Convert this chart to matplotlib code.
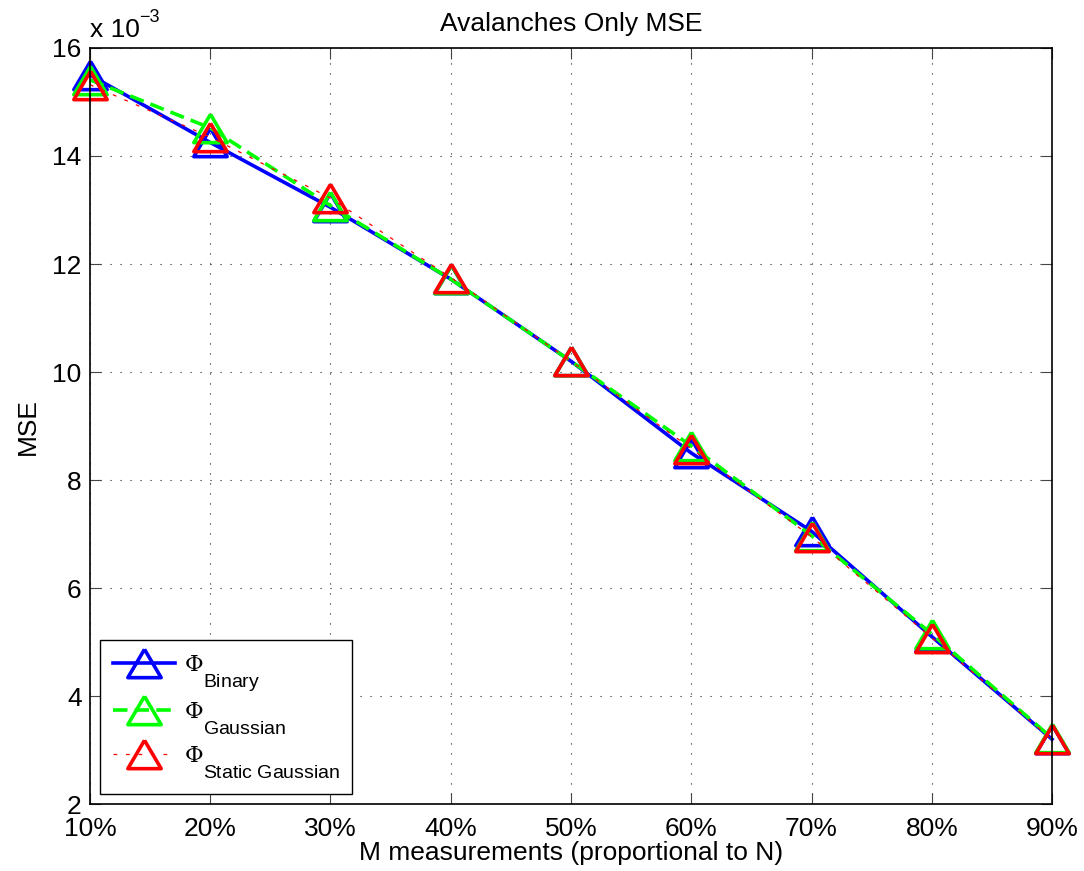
import numpy as np
import matplotlib
matplotlib.use("Agg")
import matplotlib.pyplot as plt
import matplotlib.ticker as ticker
from matplotlib.markers import MarkerStyle
import matplotlib._mathtext as mathtext_impl

# MSE per measurement fraction, in units of 1e-3
fractions = [10, 20, 30, 40, 50, 60, 70, 80, 90]
tick_labels = ["10%", "20%", "30%", "40%", "50%", "60%", "70%", "80%", "90%"]
mse_binary = [15.50, 14.25, 13.05, 11.72, 10.20, 8.50, 7.05, 5.10, 3.20]
mse_gaussian = [15.41, 14.52, 13.08, 11.72, 10.20, 8.63, 6.97, 5.15, 3.22]
mse_static = [15.32, 14.35, 13.22, 11.75, 10.20, 8.58, 6.95, 5.08, 3.20]
series_labels = [r"$\Phi_{\mathsf{Binary}}\quad$",
                 r"$\Phi_{\mathsf{Gaussian}}\quad$",
                 r"$\Phi_{\mathsf{Static\ Gaussian}}\quad\ \ \ $"]

plt.rcParams["font.family"] = ["Liberation Sans", "DejaVu Sans"]
plt.rcParams["mathtext.fontset"] = "custom"
plt.rcParams["mathtext.rm"] = "DejaVu Serif"
plt.rcParams["mathtext.sf"] = "Liberation Sans"
plt.rcParams["mathtext.it"] = "Liberation Sans:italic"
# large subscripts dropped below the symbol, as in the MATLAB legend
leg_fs = 16.5
if hasattr(mathtext_impl, "SHRINK_FACTOR"):
    mathtext_impl.SHRINK_FACTOR = 14.0 / leg_fs
if hasattr(mathtext_impl, "FontConstantsBase"):
    mathtext_impl.FontConstantsBase.sub1 = 1.3

fs = 19

fig = plt.figure(figsize=(10.84, 8.71), dpi=100)
ax = fig.add_axes([0.083, 0.0769, 0.8875, 0.868])

# wide, open triangle like the MATLAB '^' marker
tri = MarkerStyle([(0, 0.85), (-1, -0.85), (1, -0.85), (0, 0.85)], joinstyle="miter")

common = dict(marker=tri, markersize=24, markeredgewidth=2.6,
              markerfacecolor="none", clip_on=False)
ax.plot(fractions, mse_binary, color="#0000ff", lw=2.6, ls="-",
        label=series_labels[0], **common)
ax.plot(fractions, mse_gaussian, color="#00ff00", lw=2.6, ls=(0, (4, 2)),
        label=series_labels[1], **common)
ax.plot(fractions, mse_static, color="#ff0000", lw=0.9, ls=(0, (3, 7)),
        label=series_labels[2], **common)

ax.set_xlim(10, 90)
ax.set_ylim(2, 16)
ax.set_xticks(fractions)
ax.set_xticklabels(tick_labels)
ax.yaxis.set_major_locator(ticker.MultipleLocator(2))
ax.tick_params(direction="in", length=8, width=0.8, top=True, right=True,
               labelsize=fs, color="#444444")
ax.tick_params(axis="x", pad=9)
ax.tick_params(axis="y", pad=6)
for sp in ax.spines.values():
    sp.set_linewidth(1.2)
ax.grid(True, color="#222222", lw=0.8, ls=(0, (1, 8)))

# exponent label above the y axis
fig.text(90 / 1084, 1 - 37 / 871, "x 10", fontsize=fs, ha="left", va="baseline")
fig.text(139 / 1084, 1 - 22 / 871, "\u22123", fontsize=13, ha="left", va="baseline")

ax.set_title("Avalanches Only MSE", fontsize=fs, pad=12)
ax.set_xlabel("M measurements (proportional to N)", fontsize=fs, labelpad=0)
ax.set_ylabel("MSE", fontsize=fs, labelpad=9)

leg = ax.legend(loc="lower left", fontsize=leg_fs, numpoints=1, handlelength=2.7,
                borderaxespad=0.45, fancybox=False, framealpha=1,
                edgecolor="black", labelspacing=0.3, handletextpad=0.4,
                borderpad=0.55)
leg.get_frame().set_linewidth(1.0)

fig.savefig("out.png", dpi=100)
